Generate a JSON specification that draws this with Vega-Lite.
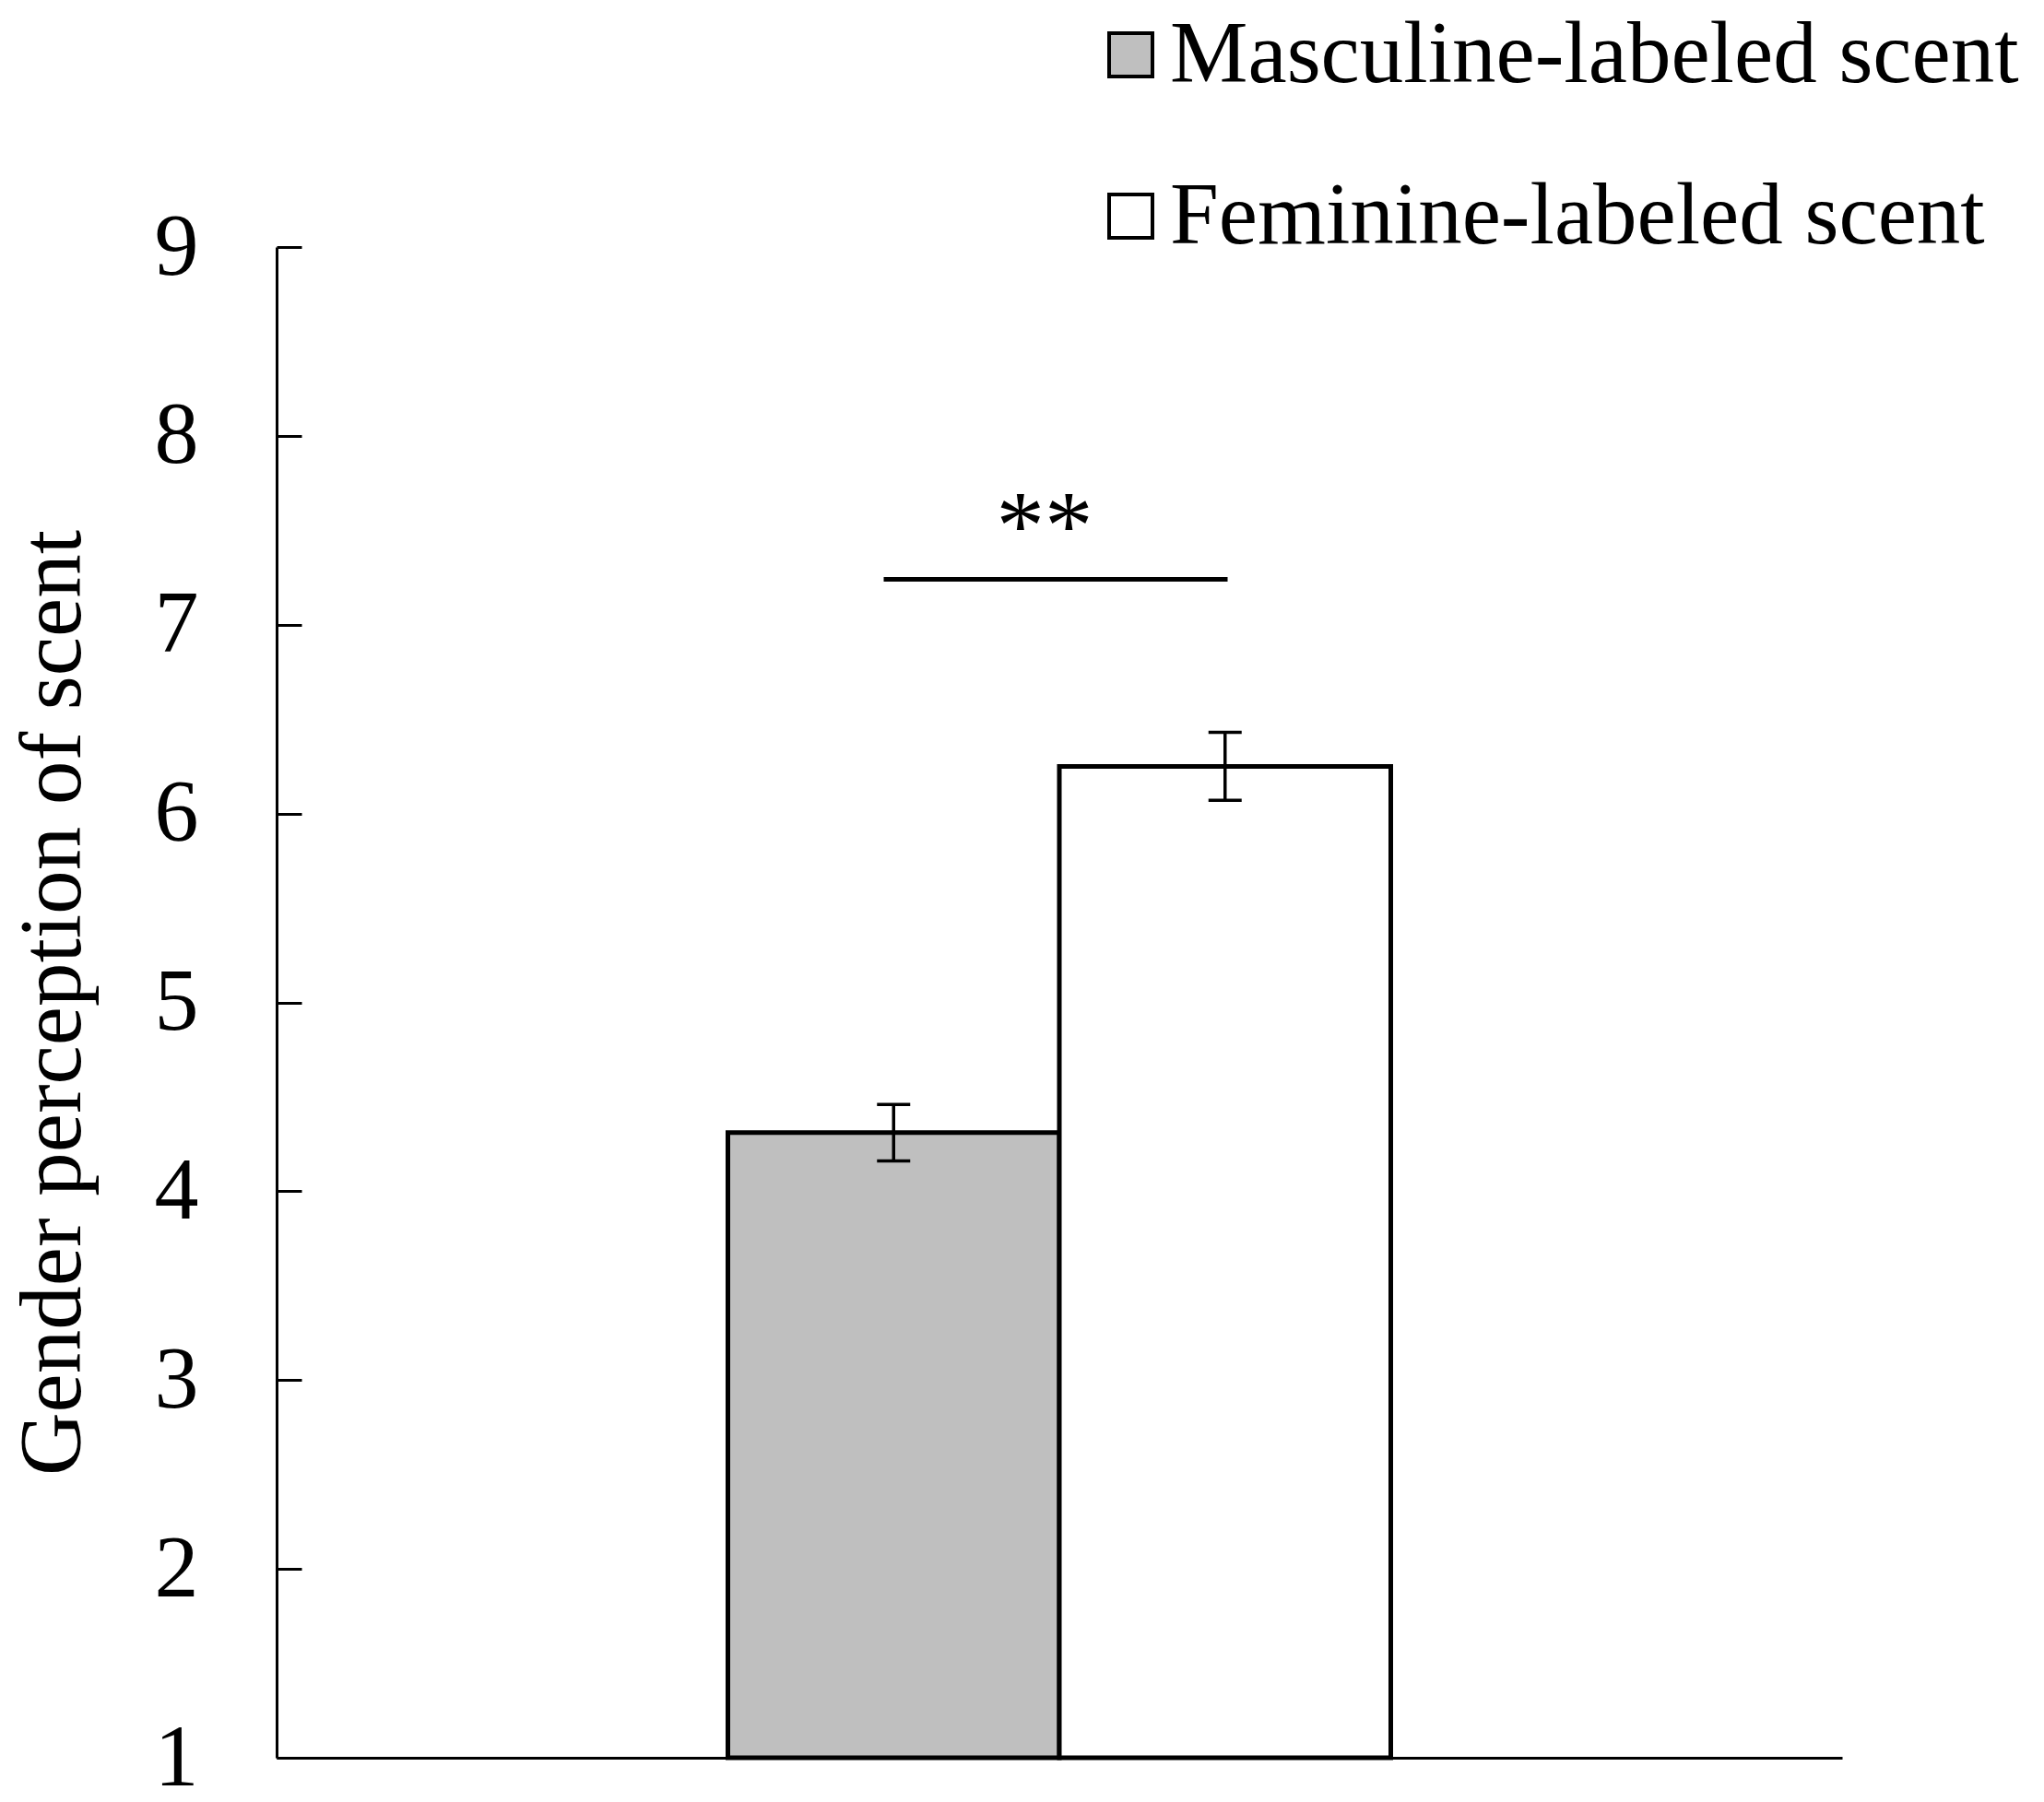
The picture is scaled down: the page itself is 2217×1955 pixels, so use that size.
{
  "$schema": "https://vega.github.io/schema/vega-lite/v6.json",
  "width": 1698,
  "height": 1639,
  "autosize": {"type": "none"},
  "padding": {"left": 300, "top": 268, "right": 219, "bottom": 48},
  "background": "white",
  "config": {"view": {"stroke": null}, "font": "Liberation Serif"},
  "datasets": {
    "bars": [
      {"group": "Scent", "condition": "Masculine-labeled scent", "mean": 4.31, "lo": 4.16, "hi": 4.46},
      {"group": "Scent", "condition": "Feminine-labeled scent", "mean": 6.25, "lo": 6.07, "hi": 6.43}
    ],
    "sig": [
      {"group": "Scent", "line": 7.24, "textpos": 7.35, "label": "**"}
    ]
  },
  "data": {"name": "bars"},
  "encoding": {
    "x": {
      "field": "group",
      "type": "nominal",
      "scale": {"paddingInner": 0, "paddingOuter": 0.6808},
      "axis": {"title": null, "labels": false, "ticks": false, "domainColor": "black", "domainWidth": 3}
    }
  },
  "layer": [
    {
      "mark": {"type": "bar", "stroke": "black", "strokeWidth": 5},
      "encoding": {
        "xOffset": {"field": "condition", "type": "nominal", "sort": ["Masculine-labeled scent", "Feminine-labeled scent"], "scale": {"paddingInner": 0, "paddingOuter": 0}},
        "y": {
          "field": "mean",
          "type": "quantitative",
          "scale": {"domain": [1, 9], "zero": false, "nice": false},
          "axis": {
            "values": [1, 2, 3, 4, 5, 6, 7, 8, 9],
            "format": "d",
            "grid": false,
            "tickSize": -27,
            "tickWidth": 3,
            "tickColor": "black",
            "domainColor": "black",
            "domainWidth": 3,
            "labelFont": "Liberation Serif",
            "labelFontSize": 96,
            "labelColor": "black",
            "labelPadding": 112,
            "title": "Gender perception of scent",
            "titleFont": "Liberation Serif",
            "titleFontSize": 95,
            "titleFontWeight": "normal",
            "titleColor": "black",
            "titlePadding": 61
          }
        },
        "y2": {"datum": 1},
        "fill": {
          "field": "condition",
          "type": "nominal",
          "scale": {"domain": ["Masculine-labeled scent", "Feminine-labeled scent"], "range": ["#bfbfbf", "#ffffff"]},
          "legend": {
            "title": null,
            "orient": "none",
            "legendX": 879,
            "legendY": -256,
            "padding": 0,
            "symbolType": "square",
            "symbolSize": 2209,
            "symbolStrokeColor": "black",
            "symbolStrokeWidth": 4,
            "labelFont": "Liberation Serif",
            "labelFontSize": 95,
            "labelColor": "black",
            "labelOffset": -5,
            "rowPadding": 79,
            "labelLimit": 2000
          }
        }
      }
    },
    {
      "mark": {"type": "rule", "color": "black", "strokeWidth": 3.5},
      "encoding": {
        "xOffset": {"field": "condition", "type": "nominal", "sort": ["Masculine-labeled scent", "Feminine-labeled scent"]},
        "y": {"field": "lo", "type": "quantitative"},
        "y2": {"field": "hi"}
      }
    },
    {
      "mark": {"type": "tick", "color": "black", "opacity": 1, "thickness": 3.5, "size": 36},
      "encoding": {
        "xOffset": {"field": "condition", "type": "nominal", "sort": ["Masculine-labeled scent", "Feminine-labeled scent"]},
        "y": {"field": "lo", "type": "quantitative"}
      }
    },
    {
      "mark": {"type": "tick", "color": "black", "opacity": 1, "thickness": 3.5, "size": 36},
      "encoding": {
        "xOffset": {"field": "condition", "type": "nominal", "sort": ["Masculine-labeled scent", "Feminine-labeled scent"]},
        "y": {"field": "hi", "type": "quantitative"}
      }
    },
    {
      "data": {"name": "sig"},
      "mark": {"type": "tick", "color": "black", "opacity": 1, "thickness": 5, "size": 373, "xOffset": -4},
      "encoding": {
        "y": {"field": "line", "type": "quantitative"}
      }
    },
    {
      "data": {"name": "sig"},
      "mark": {"type": "text", "color": "black", "fontSize": 105, "font": "Liberation Serif", "baseline": "alphabetic", "align": "center", "dx": -16},
      "encoding": {
        "y": {"field": "textpos", "type": "quantitative"},
        "text": {"field": "label"}
      }
    }
  ]
}
